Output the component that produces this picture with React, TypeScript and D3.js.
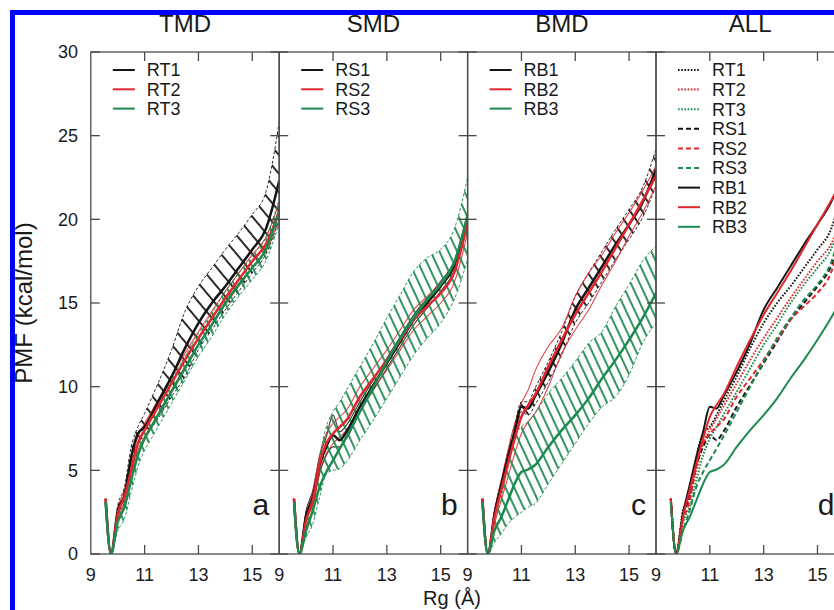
import React from 'react';
import * as d3 from 'd3';

// Rg grid shared by every PMF profile (Å)
const RG = [9.55, 9.75, 10, 10.25, 10.5, 10.75, 11, 11.25, 11.5, 12, 12.5, 13, 13.5, 14, 14.5, 15, 15.5, 16];

// TMD
const rt1 = [3.3, 0, 2.6, 3.5, 5.8, 7.2, 7.6, 8.3, 9.1, 10.6, 12.3, 13.8, 15.0, 16.0, 17.1, 18.2, 19.4, 22.3];
const rt1Hi = [3.3, 0, 2.9, 4.0, 6.4, 7.6, 8.4, 9.3, 10.2, 12.2, 14.5, 16.0, 17.1, 18.2, 19.2, 20.3, 21.6, 25.8];
const rt1Lo = [3.3, 0, 2.3, 3.1, 5.2, 6.7, 7.0, 7.5, 8.1, 9.4, 10.6, 12.2, 13.4, 14.6, 15.7, 16.8, 17.9, 20.0];
const rt2 = [3.3, 0, 2.4, 3.4, 5.0, 6.6, 7.4, 8.1, 8.8, 10.2, 11.6, 12.9, 14.1, 15.3, 16.4, 17.5, 18.5, 20.5];
const rt2Hi = [3.3, 0, 2.7, 3.8, 5.5, 7.0, 7.8, 8.5, 9.2, 10.6, 12.0, 13.3, 14.5, 15.7, 16.8, 17.9, 18.9, 21.0];
const rt2Lo = [3.3, 0, 2.1, 3.0, 4.5, 6.2, 7.0, 7.7, 8.4, 9.8, 11.2, 12.5, 13.7, 14.9, 16.0, 17.1, 18.1, 20.0];
const rt3 = [3.1, 0, 1.9, 2.8, 4.4, 5.9, 6.9, 7.6, 8.3, 9.7, 11.1, 12.5, 13.7, 15.0, 16.1, 17.1, 18.2, 20.5];
const rt3Hi = [3.1, 0, 2.4, 3.5, 5.1, 6.6, 7.6, 8.3, 9.0, 10.4, 11.8, 13.2, 14.4, 15.7, 16.8, 17.8, 18.9, 21.2];
const rt3Lo = [3.1, 0, 1.4, 2.1, 3.7, 5.2, 6.2, 6.9, 7.6, 9.0, 10.4, 11.8, 13.0, 14.3, 15.4, 16.4, 17.5, 19.8];

// SMD
const rs1 = [3.3, 0, 2.3, 3.4, 5.3, 6.4, 7.1, 6.8, 7.3, 8.8, 10.1, 11.4, 12.7, 14.0, 15.0, 16.0, 17.2, 20.0];
const rs1Hi = [3.3, 0, 2.6, 3.8, 5.8, 7.0, 8.3, 7.3, 7.7, 9.1, 10.4, 11.7, 13.0, 14.3, 15.3, 16.3, 17.5, 20.4];
const rs1Lo = [3.3, 0, 2.0, 3.0, 4.8, 5.9, 6.4, 6.4, 6.9, 8.5, 9.8, 11.1, 12.4, 13.7, 14.7, 15.7, 16.9, 19.6];
const rs2 = [3.3, 0, 2.0, 3.2, 5.4, 6.6, 7.2, 7.6, 8.0, 9.4, 10.5, 11.6, 12.8, 14.0, 14.8, 15.6, 16.8, 19.8];
const rs2Hi = [3.3, 0, 2.4, 3.7, 5.9, 7.2, 7.8, 8.2, 8.6, 10.0, 11.1, 12.2, 13.4, 14.6, 15.4, 16.2, 17.4, 20.4];
const rs2Lo = [3.3, 0, 1.6, 2.7, 4.9, 6.0, 6.6, 7.0, 7.4, 8.8, 9.9, 11.0, 12.2, 13.4, 14.2, 15.0, 16.2, 19.2];
const rs3 = [3.1, 0, 1.4, 2.6, 4.0, 4.9, 5.6, 6.3, 7.0, 8.5, 10.0, 11.5, 12.9, 14.1, 15.2, 16.1, 17.4, 20.2];
const rs3Hi = [3.1, 0, 1.8, 3.4, 5.8, 7.6, 8.5, 9.1, 9.8, 11.2, 12.6, 14.1, 15.5, 16.9, 17.7, 18.2, 19.4, 22.5];
const rs3Lo = [3.1, 0, 1.0, 1.8, 3.4, 4.8, 5.0, 5.1, 5.5, 6.8, 8.0, 9.3, 10.6, 11.9, 12.9, 13.8, 15.2, 17.6];

// BMD
const rb1 = [3.3, 0, 2.4, 4.1, 5.8, 7.3, 8.8, 8.7, 9.4, 10.9, 12.6, 14.6, 15.9, 17.2, 18.5, 19.7, 21.0, 23.0];
const rb1Hi = [3.3, 0, 2.6, 4.4, 6.1, 7.7, 9.1, 9.1, 9.9, 11.5, 13.3, 15.4, 16.8, 18.1, 19.4, 20.6, 21.9, 24.2];
const rb1Lo = [3.3, 0, 2.2, 3.8, 5.5, 6.9, 8.5, 8.3, 8.9, 10.3, 11.9, 13.8, 15.0, 16.3, 17.6, 18.8, 20.1, 22.0];
const rb2 = [3.3, 0, 2.2, 3.8, 5.4, 6.9, 8.2, 8.9, 9.5, 11.2, 12.8, 14.3, 15.6, 16.9, 18.3, 19.7, 21.1, 22.6];
const rb2Hi = [3.3, 0, 2.6, 4.4, 6.2, 7.8, 9.0, 9.8, 10.9, 12.4, 13.5, 15.4, 16.8, 17.9, 19.2, 20.4, 21.7, 23.2];
const rb2Lo = [3.3, 0, 1.8, 3.2, 4.6, 6.0, 7.2, 7.9, 8.4, 10.0, 12.0, 13.4, 14.6, 16.1, 17.5, 19.0, 20.4, 22.0];
const rb3 = [3.1, 0, 1.4, 2.2, 3.2, 4.2, 4.9, 5.05, 5.3, 6.4, 7.4, 8.3, 9.3, 10.5, 11.6, 12.8, 14.1, 15.6];
const rb3Hi = [3.1, 0, 2.0, 3.4, 5.2, 7.0, 7.6, 7.9, 8.4, 9.6, 10.5, 11.5, 12.6, 13.3, 14.8, 16.1, 17.5, 18.4];
const rb3Lo = [3.1, 0, 0.7, 1.2, 1.8, 2.2, 2.5, 2.8, 3.0, 4.2, 5.4, 6.6, 7.8, 8.8, 9.4, 10.7, 12.6, 13.8];

const xTicks = [9, 11, 13, 15];
const yTicks = [0, 5, 10, 15, 20, 25, 30];
const titles = ['TMD', 'SMD', 'BMD', 'ALL'];
const tags = ['a', 'b', 'c', 'd'];

const BLACK = '#151515';
const RED = '#e3262b';
const GREEN = '#1c8a4e';
const AXIS = '#4a4a4a';
const FONT = 'Liberation Sans, Arial, sans-serif';

type Band = { name: string; color: string; mean: number[]; hi: number[]; lo: number[]; hatch?: { angle: number; gap: number } };

const panels: Band[][] = [
  [
    { name: 'RT1', color: BLACK, mean: rt1, hi: rt1Hi, lo: rt1Lo, hatch: { angle: -40, gap: 12 } },
    { name: 'RT2', color: RED, mean: rt2, hi: rt2Hi, lo: rt2Lo },
    { name: 'RT3', color: GREEN, mean: rt3, hi: rt3Hi, lo: rt3Lo, hatch: { angle: -25, gap: 8 } },
  ],
  [
    { name: 'RS1', color: BLACK, mean: rs1, hi: rs1Hi, lo: rs1Lo },
    { name: 'RS2', color: RED, mean: rs2, hi: rs2Hi, lo: rs2Lo },
    { name: 'RS3', color: GREEN, mean: rs3, hi: rs3Hi, lo: rs3Lo, hatch: { angle: -25, gap: 8 } },
  ],
  [
    { name: 'RB1', color: BLACK, mean: rb1, hi: rb1Hi, lo: rb1Lo, hatch: { angle: -35, gap: 10 } },
    { name: 'RB2', color: RED, mean: rb2, hi: rb2Hi, lo: rb2Lo },
    { name: 'RB3', color: GREEN, mean: rb3, hi: rb3Hi, lo: rb3Lo, hatch: { angle: -25, gap: 8 } },
  ],
];

const allDash: Record<string, string | undefined> = { RT: '1.6,1.6', RS: '5,3', RB: undefined };

const W = 834;
const H = 610;
const PW = 188.4;
const X0 = [90.8, 279.2, 467.6, 656];

const App = () => {
  const y = d3.scaleLinear().domain([0, 30]).range([554, 52]);
  const xOf = (p: number) => d3.scaleLinear().domain([9, 16]).range([X0[p], X0[p] + PW]);

  const lineFor = (x: d3.ScaleLinear<number, number>) =>
    d3.line<number>().x((_, k) => x(RG[k])).y(d => y(d)).curve(d3.curveMonotoneX);
  const areaFor = (x: d3.ScaleLinear<number, number>, lo: number[]) =>
    d3.area<number>().x((_, k) => x(RG[k])).y0((_, k) => y(lo[k])).y1(d => y(d)).curve(d3.curveMonotoneX);

  const allSeries = panels.flat();

  return (
    <div style={{ position: 'fixed', left: 0, top: 0, width: W, height: H, overflow: 'hidden', background: '#fff' }}>
      <svg width={W} height={H} style={{ display: 'block', fontFamily: FONT }}>
        <defs>
          {panels.map((ps, p) =>
            ps.filter(s => s.hatch).map(s => (
              <pattern key={`h${p}${s.name}`} id={`hatch-${p}-${s.name}`} patternUnits="userSpaceOnUse"
                width={s.hatch!.gap} height={s.hatch!.gap} patternTransform={`rotate(${s.hatch!.angle})`}>
                <line x1={s.hatch!.gap / 2} y1={0} x2={s.hatch!.gap / 2} y2={s.hatch!.gap} stroke={s.color} strokeWidth={1.8} />
              </pattern>
            ))
          )}
          {X0.map((x0, p) => (
            <clipPath key={p} id={`clip-${p}`}>
              <rect x={x0} y={52} width={PW} height={502} />
            </clipPath>
          ))}
        </defs>

        {/* bands and means for panels a-c */}
        {panels.map((ps, p) => {
          const x = xOf(p);
          const line = lineFor(x);
          return (
            <g key={p} clipPath={`url(#clip-${p})`}>
              {ps.map(s => (
                <g key={s.name}>
                  {s.hatch && <path d={areaFor(x, s.lo)(s.hi) || ''} fill={`url(#hatch-${p}-${s.name})`} stroke="none" />}
                  <path d={line(s.hi) || ''} fill="none" stroke={s.color} strokeWidth={s.hatch ? 1 : 1.1}
                    strokeDasharray={s.hatch ? '3,2' : undefined} opacity={s.hatch ? 0.9 : 0.85} />
                  <path d={line(s.lo) || ''} fill="none" stroke={s.color} strokeWidth={s.hatch ? 1 : 1.1}
                    strokeDasharray={s.hatch ? '3,2' : undefined} opacity={s.hatch ? 0.9 : 0.85} />
                </g>
              ))}
              {ps.map(s => (
                <path key={`m${s.name}`} d={line(s.mean) || ''} fill="none" stroke={s.color} strokeWidth={2.5} />
              ))}
            </g>
          );
        })}

        {/* panel d: all means */}
        <g clipPath="url(#clip-3)">
          {allSeries.map(s => (
            <path key={s.name} d={lineFor(xOf(3))(s.mean) || ''} fill="none" stroke={s.color}
              strokeWidth={2} strokeDasharray={allDash[s.name.slice(0, 2)]} />
          ))}
        </g>

        {/* frames and ticks */}
        {X0.map((x0, p) => {
          const x = xOf(p);
          return (
            <g key={`ax${p}`} stroke={AXIS} strokeWidth={1.3} fill="none">
              <rect x={x0} y={52} width={PW} height={502} />
              {xTicks.slice(1).map(t => (
                <g key={t}>
                  <line x1={x(t)} x2={x(t)} y1={554} y2={545} />
                  <line x1={x(t)} x2={x(t)} y1={52} y2={61} />
                </g>
              ))}
              {yTicks.map(t => (
                <g key={t}>
                  <line x1={x0} x2={x0 + 9} y1={y(t)} y2={y(t)} />
                  <line x1={x0 + PW} x2={x0 + PW - 9} y1={y(t)} y2={y(t)} />
                </g>
              ))}
            </g>
          );
        })}

        {/* tick labels */}
        <g fill="#1a1a1a" fontSize={18}>
          {yTicks.map(t => (
            <text key={t} x={78} y={y(t)} dy="0.36em" textAnchor="end">{t}</text>
          ))}
          {X0.map((_, p) =>
            xTicks.map(t => (
              <text key={`${p}-${t}`} x={xOf(p)(t)} y={581} textAnchor="middle">{t}</text>
            ))
          )}
        </g>

        {/* titles and tags */}
        <g fill="#1a1a1a">
          {titles.map((t, p) => (
            <text key={t} x={X0[p] + PW / 2} y={32} fontSize={24} textAnchor="middle">{t}</text>
          ))}
          {tags.map((t, p) => (
            <text key={t} x={X0[p] + PW - 10} y={515} fontSize={30} textAnchor="end">{t}</text>
          ))}
          <text transform="translate(32,303) rotate(-90)" fontSize={24} textAnchor="middle">PMF (kcal/mol)</text>
          <text x={452} y={605} fontSize={20} textAnchor="middle">Rg (Å)</text>
        </g>

        {/* legends a-c */}
        {panels.map((ps, p) => (
          <g key={`lg${p}`} fontSize={18} fill="#1a1a1a">
            {ps.map((s, i) => (
              <g key={s.name} transform={`translate(${X0[p] + 22},${70 + i * 19.3})`}>
                <line x1={0} x2={22} y1={0} y2={0} stroke={s.color} strokeWidth={2} />
                <text x={34} y={0} dy="0.36em">{s.name}</text>
              </g>
            ))}
          </g>
        ))}

        {/* legend d */}
        <g fontSize={18} fill="#1a1a1a">
          {['RT', 'RS', 'RB'].flatMap(k => allSeries.filter(s => s.name.startsWith(k))).map((s, i) => (
            <g key={s.name} transform={`translate(${X0[3] + 22},${70 + i * 19.6})`}>
              <line x1={0} x2={22} y1={0} y2={0} stroke={s.color} strokeWidth={2} strokeDasharray={allDash[s.name.slice(0, 2)]} />
              <text x={34} y={0} dy="0.36em">{s.name}</text>
            </g>
          ))}
        </g>

        <rect x={12.5} y={12.5} width={900} height={700} fill="none" stroke="#0000ff" strokeWidth={5} />
      </svg>
    </div>
  );
};

export default App;
